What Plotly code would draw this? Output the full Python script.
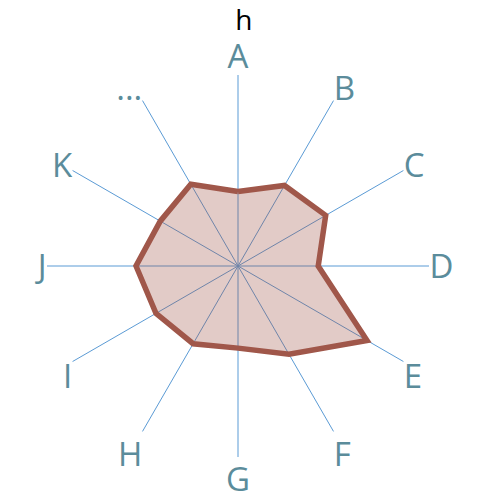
import plotly.graph_objects as go

categories = ["A", "B", "C", "D", "E", "F", "G", "H", "I", "J", "K", "..."]
values = [39, 48.7, 53, 42, 78, 53.4, 43, 47, 49.6, 53.4, 47, 49.4]
title_text = "h"

theta = categories + categories[:1]
r = values + values[:1]

fig = go.Figure()
fig.add_trace(go.Scatterpolar(
    r=r, theta=theta, mode="lines", fill="toself",
    fillcolor="rgba(160,82,70,0.30)",
    line=dict(color="#a0574a", width=5.5),
    hoverinfo="skip",
))

fig.update_layout(
    width=484, height=504,
    margin=dict(l=47, r=55, t=75, b=47),
    paper_bgcolor="white",
    showlegend=False,
    title=dict(text=title_text, x=0.504, xanchor="center", y=0.98, yanchor="top",
               yref="container",
               font=dict(family="Open Sans", size=28, color="black")),
    polar=dict(
        bgcolor="white",
        radialaxis=dict(visible=False, range=[0, 100], showgrid=False),
        angularaxis=dict(
            direction="clockwise", rotation=90,
            showline=False, ticks="",
            gridcolor="#5b9bd5", gridwidth=1,
            tickfont=dict(family="Open Sans", size=33, color="#5b8c9b"),
        ),
    ),
)

fig.write_html("out.html", config={"displayModeBar": False},
               post_script="document.body.style.margin='0';")
